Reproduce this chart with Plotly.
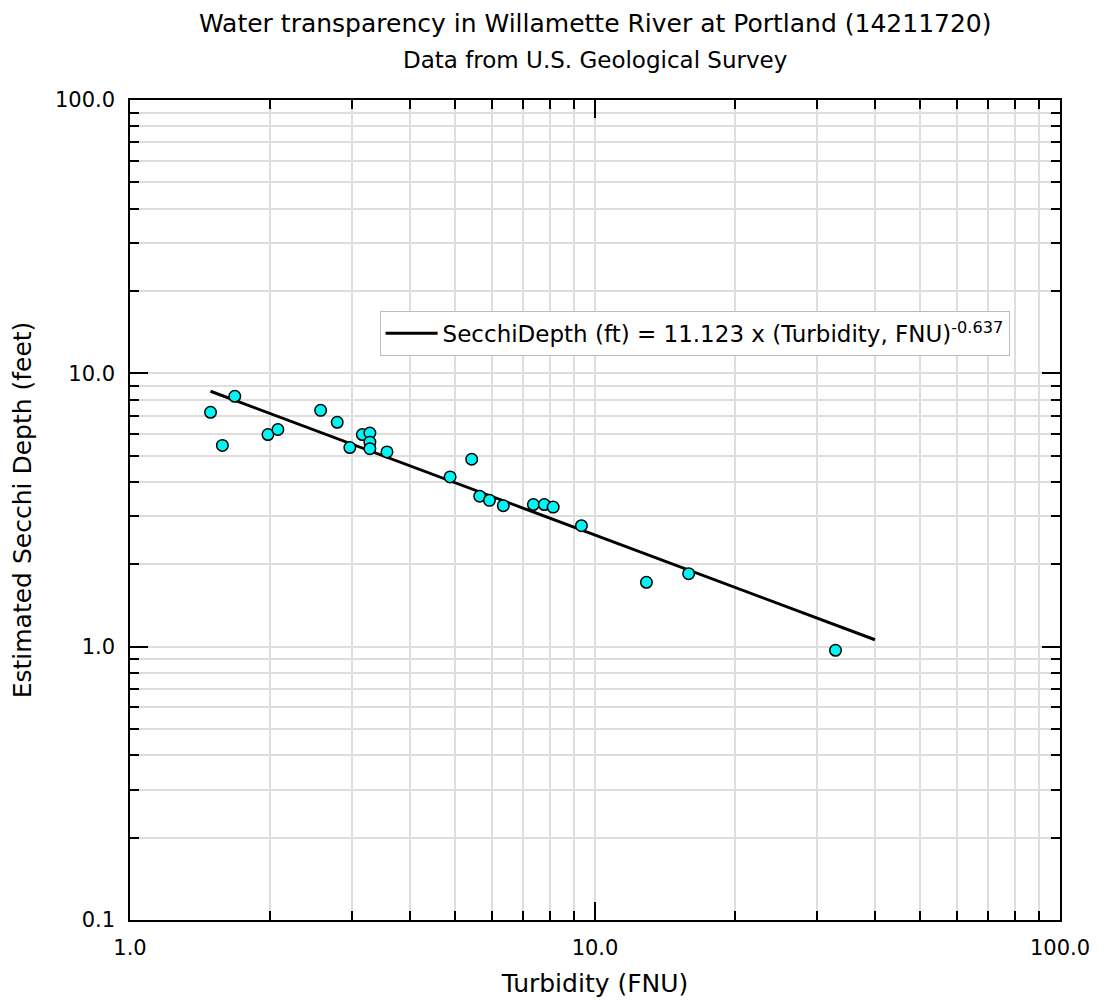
import plotly.graph_objects as go

turbidity_fnu = [1.49, 1.58, 1.68, 1.98, 2.08, 2.57, 2.79, 2.97, 3.16, 3.28, 3.28, 3.28,
                 3.57, 4.88, 5.43, 5.65, 5.93, 6.35, 7.37, 7.78, 8.13, 9.35, 12.9, 15.9, 32.9]
secchi_ft = [7.2, 5.45, 8.24, 5.97, 6.23, 7.32, 6.62, 5.35, 5.97, 6.05, 5.6, 5.3,
             5.16, 4.18, 4.85, 3.55, 3.43, 3.28, 3.31, 3.31, 3.24, 2.77, 1.72, 1.85, 0.97]

# Fitted power-law line endpoints
fit_x = [1.49, 40.0]
fit_y = [8.6, 1.06]

x_tickvals = [1, 10, 100]
x_ticktext = ["1.0", "10.0", "100.0"]
x_minor = [2, 3, 4, 5, 6, 7, 8, 9, 20, 30, 40, 50, 60, 70, 80, 90]
y_tickvals = [0.1, 1, 10, 100]
y_ticktext = ["0.1", "1.0", "10.0", "100.0"]
y_minor = [0.2, 0.3, 0.4, 0.5, 0.6, 0.7, 0.8, 0.9, 2, 3, 4, 5, 6, 7, 8, 9,
           20, 30, 40, 50, 60, 70, 80, 90]

FONT = "DejaVu Sans, Verdana, sans-serif"
GRID = "#dedede"

fig = go.Figure()
fig.add_trace(go.Scatter(
    x=fit_x, y=fit_y, mode="lines",
    line=dict(color="black", width=3),
    name="SecchiDepth (ft) = 11.123 x (Turbidity, FNU)<sup>-0.637</sup>",
    showlegend=True,
))
fig.add_trace(go.Scatter(
    x=turbidity_fnu, y=secchi_ft, mode="markers",
    marker=dict(color="#00f5f5", size=11.5, line=dict(color="black", width=1.5)),
    showlegend=False,
))

def axis_common(minor_vals):
    return dict(
        type="log",
        showline=True, linecolor="black", linewidth=1.5,
        mirror="allticks",
        ticks="inside", ticklen=18, tickwidth=1.5, tickcolor="black",
        showgrid=True, gridcolor=GRID, gridwidth=1.5,
        zeroline=False,
        tickfont=dict(family=FONT, size=21, color="black"),
        minor=dict(tickmode="array", tickvals=minor_vals,
                   ticks="inside", ticklen=9, tickwidth=1.5, tickcolor="black",
                   showgrid=True, gridcolor=GRID, gridwidth=1.5),
    )

fig.update_xaxes(
    **axis_common(x_minor),
    range=[0, 2],
    tickmode="array", tickvals=x_tickvals, ticktext=x_ticktext,
    ticklabelstandoff=8,
    title=dict(text="Turbidity (FNU)", font=dict(family=FONT, size=25, color="black"), standoff=16),
)
fig.update_yaxes(
    **axis_common(y_minor),
    range=[-1, 2],
    tickmode="array", tickvals=y_tickvals, ticktext=y_ticktext,
    ticklabelstandoff=9,
    title=dict(text="Estimated Secchi Depth (feet)", font=dict(family=FONT, size=25, color="black"), standoff=17),
)

fig.update_layout(
    width=1106, height=998,
    margin=dict(l=117, r=54, t=92, b=86),
    paper_bgcolor="white", plot_bgcolor="white",
    font=dict(family=FONT, color="black"),
    legend=dict(
        x=0.2684, y=0.743, xanchor="left", yanchor="top",
        bgcolor="white", bordercolor="#bbbbbb", borderwidth=1,
        itemwidth=52,
        font=dict(family=FONT, size=23, color="black"),
    ),
    annotations=[
        dict(text="Water transparency in Willamette River at Portland (14211720)",
             xref="paper", yref="paper", x=0.5, y=1.0, yshift=77,
             xanchor="center", yanchor="middle", showarrow=False,
             font=dict(family=FONT, size=25, color="black")),
        dict(text="Data from U.S. Geological Survey",
             xref="paper", yref="paper", x=0.5, y=1.0, yshift=40,
             xanchor="center", yanchor="middle", showarrow=False,
             font=dict(family=FONT, size=23, color="black")),
    ],
)

fig.write_html("out.html")
